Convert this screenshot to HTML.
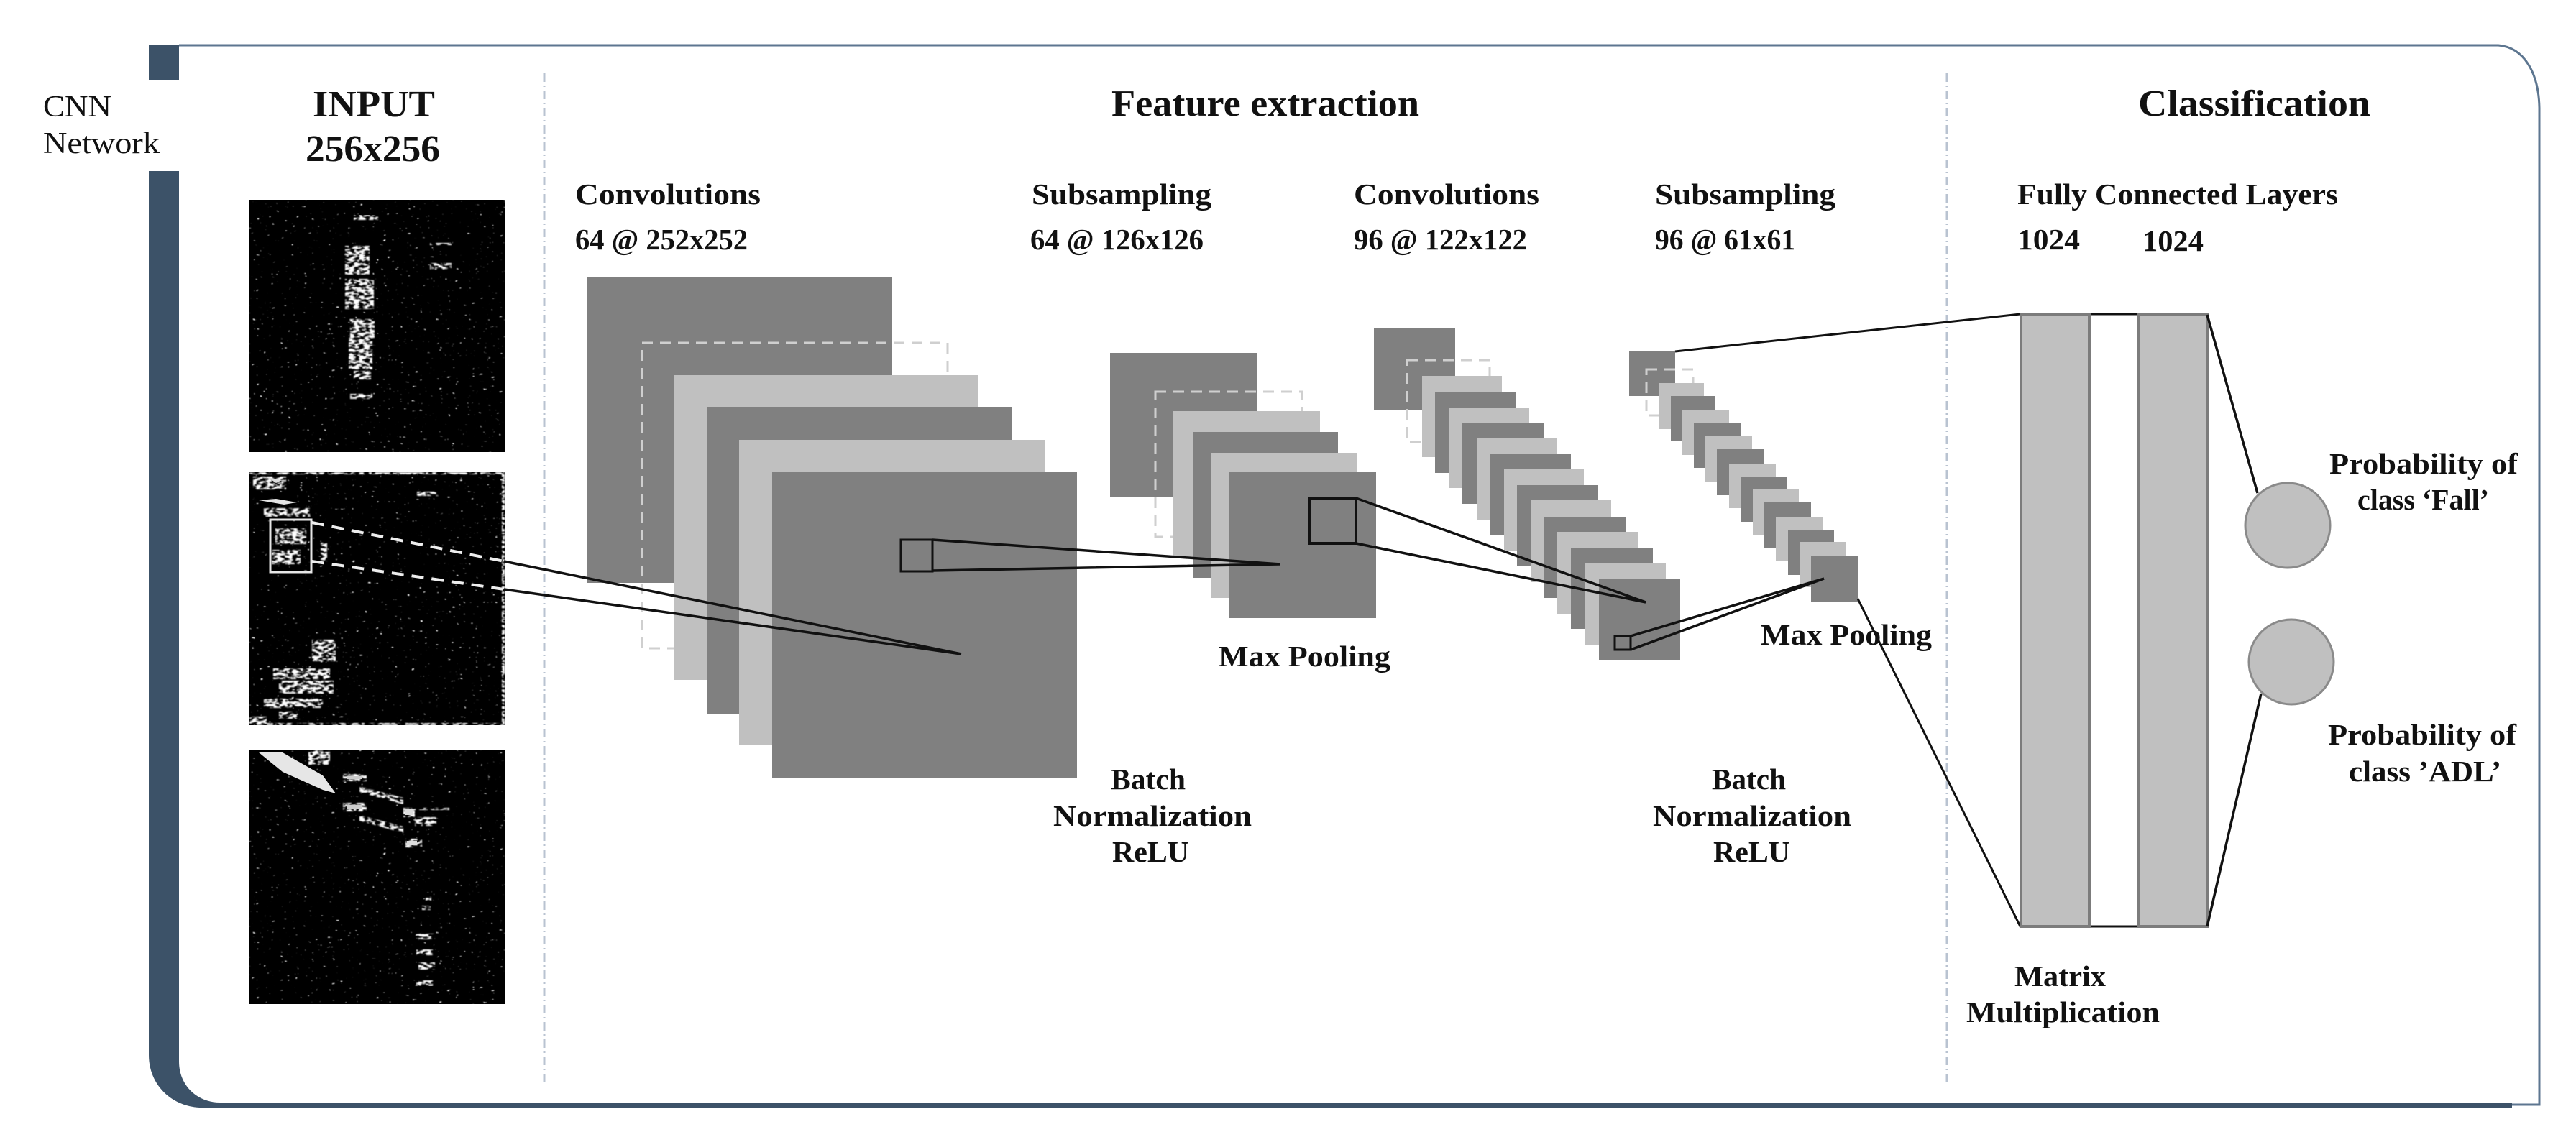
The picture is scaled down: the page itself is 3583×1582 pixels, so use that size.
<!DOCTYPE html>
<html><head><meta charset="utf-8"><style>
html,body{margin:0;padding:0;background:#fff}
svg{display:block}
text{font-family:"Liberation Serif",serif;fill:#111}
.b{font-weight:bold;font-size:41px}
.h{font-weight:bold;font-size:52px}
</style></head><body>
<svg width="3583" height="1582" viewBox="0 0 3583 1582" xmlns="http://www.w3.org/2000/svg">
<defs>
<filter id="dense" x="0" y="0" width="1" height="1" color-interpolation-filters="sRGB">
<feTurbulence type="fractalNoise" baseFrequency="0.14 0.3" numOctaves="2" seed="5" result="n"/>
<feColorMatrix in="n" type="matrix" values="0 0 0 0 1 0 0 0 0 1 0 0 0 0 1 9 0 0 0 -3.9" result="m"/>
<feComposite in="SourceGraphic" in2="m" operator="in"/>
<feGaussianBlur stdDeviation="0.7"/>
</filter>
<filter id="sparse" x="0" y="0" width="1" height="1" color-interpolation-filters="sRGB">
<feTurbulence type="fractalNoise" baseFrequency="0.18 0.3" numOctaves="2" seed="11" result="n"/>
<feColorMatrix in="n" type="matrix" values="0 0 0 0 1 0 0 0 0 1 0 0 0 0 1 14 0 0 0 -10.5" result="m"/>
<feComposite in="SourceGraphic" in2="m" operator="in"/>
<feGaussianBlur stdDeviation="0.6"/>
</filter>
</defs>
<rect width="3583" height="1582" fill="#fff"/>

<!-- frame -->
<path d="M249 63H3475C3510 66 3531 100 3532 150V1537H3494" fill="none" stroke="#5d7690" stroke-width="3"/>
<rect x="207" y="62" width="42" height="49" fill="#3c5268"/>
<path d="M207 238H249V1477C249 1510 274 1534 306 1534H3494V1541H281C240 1541 207 1510 207 1468Z" fill="#3c5268"/>

<!-- dividers -->
<path d="M757 102V1511M2708 102V1511" stroke="#b9c3d1" stroke-width="3" stroke-dasharray="12 5 2 5" fill="none"/>

<!-- input images -->
<rect x="347" y="278" width="355" height="351" fill="#000"/>
<rect x="347" y="657" width="355" height="352" fill="#000"/>
<rect x="347" y="1043" width="355" height="354" fill="#000"/>
<g filter="url(#sparse)" fill="#fff">
<rect x="347" y="278" width="355" height="351"/>
<rect x="347" y="657" width="355" height="352"/>
<rect x="347" y="1043" width="355" height="354"/>
</g>
<g filter="url(#dense)" fill="#fff">
<!-- image 1 -->
<rect x="480" y="342" width="34" height="40"/>
<rect x="480" y="388" width="40" height="42"/>
<rect x="487" y="444" width="34" height="26"/>
<rect x="485" y="470" width="33" height="44"/>
<rect x="492" y="516" width="24" height="12"/>
<rect x="492" y="299" width="34" height="7"/>
<rect x="487" y="548" width="31" height="7"/>
<rect x="598" y="338" width="30" height="3"/>
<rect x="598" y="366" width="30" height="9"/>
<!-- image 2 -->
<rect x="352" y="663" width="46" height="18"/>
<rect x="367" y="707" width="64" height="12"/>
<rect x="383" y="735" width="43" height="22"/>
<rect x="378" y="765" width="40" height="20"/>
<rect x="446" y="755" width="9" height="26"/>
<rect x="434" y="890" width="33" height="30"/>
<rect x="380" y="930" width="79" height="15"/>
<rect x="388" y="947" width="76" height="18"/>
<rect x="367" y="972" width="82" height="13"/>
<rect x="388" y="990" width="25" height="10"/>
<rect x="347" y="997" width="24" height="12"/>
<rect x="347" y="657" width="355" height="3"/>
<rect x="347" y="1006" width="355" height="3"/>
<rect x="698" y="657" width="4" height="352"/>
<rect x="580" y="684" width="30" height="6"/>
<!-- image 3 -->
<rect x="429" y="1044" width="30" height="20"/>
<rect x="477" y="1077" width="33" height="10"/>
<polygon points="500,1094 561,1110 561,1119 500,1102"/>
<rect x="477" y="1117" width="33" height="12"/>
<polygon points="500,1134 561,1150 561,1159 500,1142"/>
<rect x="561" y="1124" width="16" height="13"/>
<rect x="577" y="1124" width="48" height="3"/>
<rect x="564" y="1167" width="23" height="12"/>
<rect x="577" y="1137" width="30" height="12"/>
<rect x="579" y="1299" width="26" height="8"/>
<rect x="579" y="1321" width="23" height="8"/>
<rect x="582" y="1339" width="23" height="10"/>
<rect x="579" y="1364" width="23" height="8"/>
<rect x="592" y="1248" width="8" height="6"/>
<rect x="587" y="1260" width="12" height="6"/>
</g>
<polygon points="360,1047 393,1047 449,1079 467,1104 449,1099 393,1074" fill="#e6e6e6"/>
<polygon points="360,696 384,694 413,699 395,702" fill="#e4e4e4"/>
<polygon points="372,664 392,668 384,672" fill="#ddd"/>
<rect x="564" y="1126" width="10" height="8" fill="#ddd"/>
<rect x="566" y="1170" width="14" height="6" fill="#ddd"/>
<rect x="482" y="1120" width="22" height="5" fill="#ccc"/>
<rect x="482" y="1080" width="22" height="4" fill="#ccc"/>
<rect x="376" y="723" width="57" height="73" fill="none" stroke="#e6e6e6" stroke-width="3"/>
<path d="M434 727L701 781M434 781L701 820" stroke="#eee" stroke-width="4" stroke-dasharray="17 11" fill="none"/>

<!-- stack 1 -->
<rect x="817" y="386" width="424" height="425" fill="#808080"/>
<rect x="893" y="477" width="425" height="425" fill="none" stroke="#cfcfcf" stroke-width="3" stroke-dasharray="15 10"/>
<rect x="938" y="522" width="423" height="424" fill="#c0c0c0"/>
<rect x="983" y="566" width="425" height="427" fill="#808080"/>
<rect x="1028" y="612" width="425" height="425" fill="#c0c0c0"/>
<rect x="1074" y="657" width="424" height="426" fill="#808080"/>
<rect x="1253" y="751" width="44" height="44" fill="none" stroke="#111" stroke-width="3"/>
<path d="M701 781L1337 910L701 820" fill="none" stroke="#111" stroke-width="3.5"/>

<!-- stack 2 -->
<rect x="1544" y="491" width="204" height="201" fill="#808080"/>
<rect x="1607" y="545" width="204" height="202" fill="none" stroke="#cfcfcf" stroke-width="3" stroke-dasharray="15 10"/>
<rect x="1632" y="572" width="204" height="203" fill="#c0c0c0"/>
<rect x="1659" y="601" width="202" height="203" fill="#808080"/>
<rect x="1684" y="630" width="203" height="202" fill="#c0c0c0"/>
<rect x="1710" y="657" width="204" height="203" fill="#808080"/>
<path d="M1297 751L1780 785L1297 794" fill="none" stroke="#111" stroke-width="3.5"/>
<rect x="1822" y="693" width="64" height="63" fill="none" stroke="#111" stroke-width="4"/>
<!-- stack 3 -->
<rect x="1911" y="456" width="113" height="114" fill="#808080"/>
<rect x="1957" y="501" width="115" height="114" fill="none" stroke="#cfcfcf" stroke-width="3" stroke-dasharray="15 10"/>
<rect x="1978" y="523" width="111" height="113" fill="#c0c0c0"/>
<rect x="1996" y="545" width="113" height="113" fill="#808080"/>
<rect x="2016" y="567" width="111" height="112" fill="#c0c0c0"/>
<rect x="2034" y="588" width="113" height="113" fill="#808080"/>
<rect x="2054" y="609" width="111" height="114" fill="#c0c0c0"/>
<rect x="2072" y="631" width="113" height="114" fill="#808080"/>
<rect x="2092" y="653" width="111" height="113" fill="#c0c0c0"/>
<rect x="2110" y="675" width="113" height="113" fill="#808080"/>
<rect x="2130" y="696" width="111" height="114" fill="#c0c0c0"/>
<rect x="2147" y="719" width="114" height="113" fill="#808080"/>
<rect x="2166" y="740" width="113" height="114" fill="#c0c0c0"/>
<rect x="2185" y="762" width="114" height="113" fill="#808080"/>
<rect x="2204" y="784" width="113" height="113" fill="#c0c0c0"/>
<rect x="2224" y="805" width="113" height="114" fill="#808080"/>
<rect x="2246" y="885" width="22" height="19" fill="none" stroke="#111" stroke-width="3"/>
<path d="M1886 693L2289 838L1886 756" fill="none" stroke="#111" stroke-width="3.5"/>

<!-- stack 4 -->
<rect x="2266" y="489" width="64" height="62" fill="#808080"/>
<rect x="2290" y="514" width="65" height="64" fill="none" stroke="#cfcfcf" stroke-width="3" stroke-dasharray="15 10"/>
<rect x="2307" y="533" width="63" height="64" fill="#c0c0c0"/>
<rect x="2324" y="551" width="62" height="63" fill="#808080"/>
<rect x="2340" y="571" width="65" height="62" fill="#c0c0c0"/>
<rect x="2356" y="588" width="65" height="63" fill="#808080"/>
<rect x="2372" y="607" width="65" height="64" fill="#c0c0c0"/>
<rect x="2388" y="625" width="66" height="64" fill="#808080"/>
<rect x="2405" y="645" width="65" height="62" fill="#c0c0c0"/>
<rect x="2421" y="663" width="65" height="63" fill="#808080"/>
<rect x="2438" y="680" width="64" height="65" fill="#c0c0c0"/>
<rect x="2454" y="699" width="65" height="64" fill="#808080"/>
<rect x="2470" y="719" width="65" height="62" fill="#c0c0c0"/>
<rect x="2487" y="737" width="64" height="63" fill="#808080"/>
<rect x="2503" y="754" width="65" height="63" fill="#c0c0c0"/>
<rect x="2519" y="773" width="65" height="64" fill="#808080"/>
<path d="M2268 885L2537 805L2268 904" fill="none" stroke="#111" stroke-width="3.5"/>

<!-- fully connected -->
<path d="M2330 489L2810 437H3071M2584 833L2810 1289H3071" fill="none" stroke="#111" stroke-width="3"/>
<rect x="2811" y="437" width="95" height="852" fill="#c0c0c0" stroke="#7c7c7c" stroke-width="4"/>
<rect x="2974" y="438" width="97" height="851" fill="#c0c0c0" stroke="#7c7c7c" stroke-width="4"/>
<path d="M3070 438L3140 686M3070 1289L3145 965" fill="none" stroke="#111" stroke-width="3.5"/>
<circle cx="3182" cy="731" r="59" fill="#c0c0c0" stroke="#8a8a8a" stroke-width="3"/>
<circle cx="3187" cy="921" r="59" fill="#c0c0c0" stroke="#8a8a8a" stroke-width="3"/>

<!-- labels -->
<text x="60" y="162" font-size="42" textLength="95" lengthAdjust="spacingAndGlyphs">CNN</text>
<text x="60" y="213" font-size="42" textLength="162" lengthAdjust="spacingAndGlyphs">Network</text>
<text class="h" x="435" y="162" textLength="170" lengthAdjust="spacingAndGlyphs">INPUT</text>
<text class="h" x="425" y="224" textLength="187" lengthAdjust="spacingAndGlyphs">256x256</text>
<text class="h" x="1546" y="161" textLength="428" lengthAdjust="spacingAndGlyphs">Feature extraction</text>
<text class="h" x="2974" y="161" textLength="323" lengthAdjust="spacingAndGlyphs">Classification</text>

<text class="b" x="800" y="284" textLength="258" lengthAdjust="spacingAndGlyphs">Convolutions</text>
<text class="b" x="800" y="347" textLength="240" lengthAdjust="spacingAndGlyphs">64 @ 252x252</text>
<text class="b" x="1435" y="284" textLength="250" lengthAdjust="spacingAndGlyphs">Subsampling</text>
<text class="b" x="1433" y="347" textLength="241" lengthAdjust="spacingAndGlyphs">64 @ 126x126</text>
<text class="b" x="1883" y="284" textLength="258" lengthAdjust="spacingAndGlyphs">Convolutions</text>
<text class="b" x="1883" y="347" textLength="241" lengthAdjust="spacingAndGlyphs">96 @ 122x122</text>
<text class="b" x="2302" y="284" textLength="251" lengthAdjust="spacingAndGlyphs">Subsampling</text>
<text class="b" x="2302" y="347" textLength="195" lengthAdjust="spacingAndGlyphs">96 @ 61x61</text>
<text class="b" x="2806" y="284" textLength="446" lengthAdjust="spacingAndGlyphs">Fully Connected Layers</text>
<text class="b" x="2806" y="347" textLength="87" lengthAdjust="spacingAndGlyphs">1024</text>
<text class="b" x="2980" y="349" textLength="85" lengthAdjust="spacingAndGlyphs">1024</text>

<text class="b" x="1695" y="927" textLength="239" lengthAdjust="spacingAndGlyphs">Max Pooling</text>
<text class="b" x="2449" y="897" textLength="238" lengthAdjust="spacingAndGlyphs">Max Pooling</text>

<text class="b" x="1545" y="1098" textLength="104" lengthAdjust="spacingAndGlyphs">Batch</text>
<text class="b" x="1465" y="1149" textLength="276" lengthAdjust="spacingAndGlyphs">Normalization</text>
<text class="b" x="1547" y="1199" textLength="107" lengthAdjust="spacingAndGlyphs">ReLU</text>
<text class="b" x="2381" y="1098" textLength="103" lengthAdjust="spacingAndGlyphs">Batch</text>
<text class="b" x="2299" y="1149" textLength="276" lengthAdjust="spacingAndGlyphs">Normalization</text>
<text class="b" x="2383" y="1199" textLength="107" lengthAdjust="spacingAndGlyphs">ReLU</text>

<text class="b" x="2802" y="1372" textLength="127" lengthAdjust="spacingAndGlyphs">Matrix</text>
<text class="b" x="2735" y="1422" textLength="269" lengthAdjust="spacingAndGlyphs">Multiplication</text>
<text class="b" x="3240" y="659" textLength="262" lengthAdjust="spacingAndGlyphs">Probability of</text>
<text class="b" x="3279" y="709" textLength="183" lengthAdjust="spacingAndGlyphs">class ‘Fall’</text>
<text class="b" x="3238" y="1036" textLength="262" lengthAdjust="spacingAndGlyphs">Probability of</text>
<text class="b" x="3267" y="1087" textLength="212" lengthAdjust="spacingAndGlyphs">class ’ADL’</text>
</svg>
</body></html>
